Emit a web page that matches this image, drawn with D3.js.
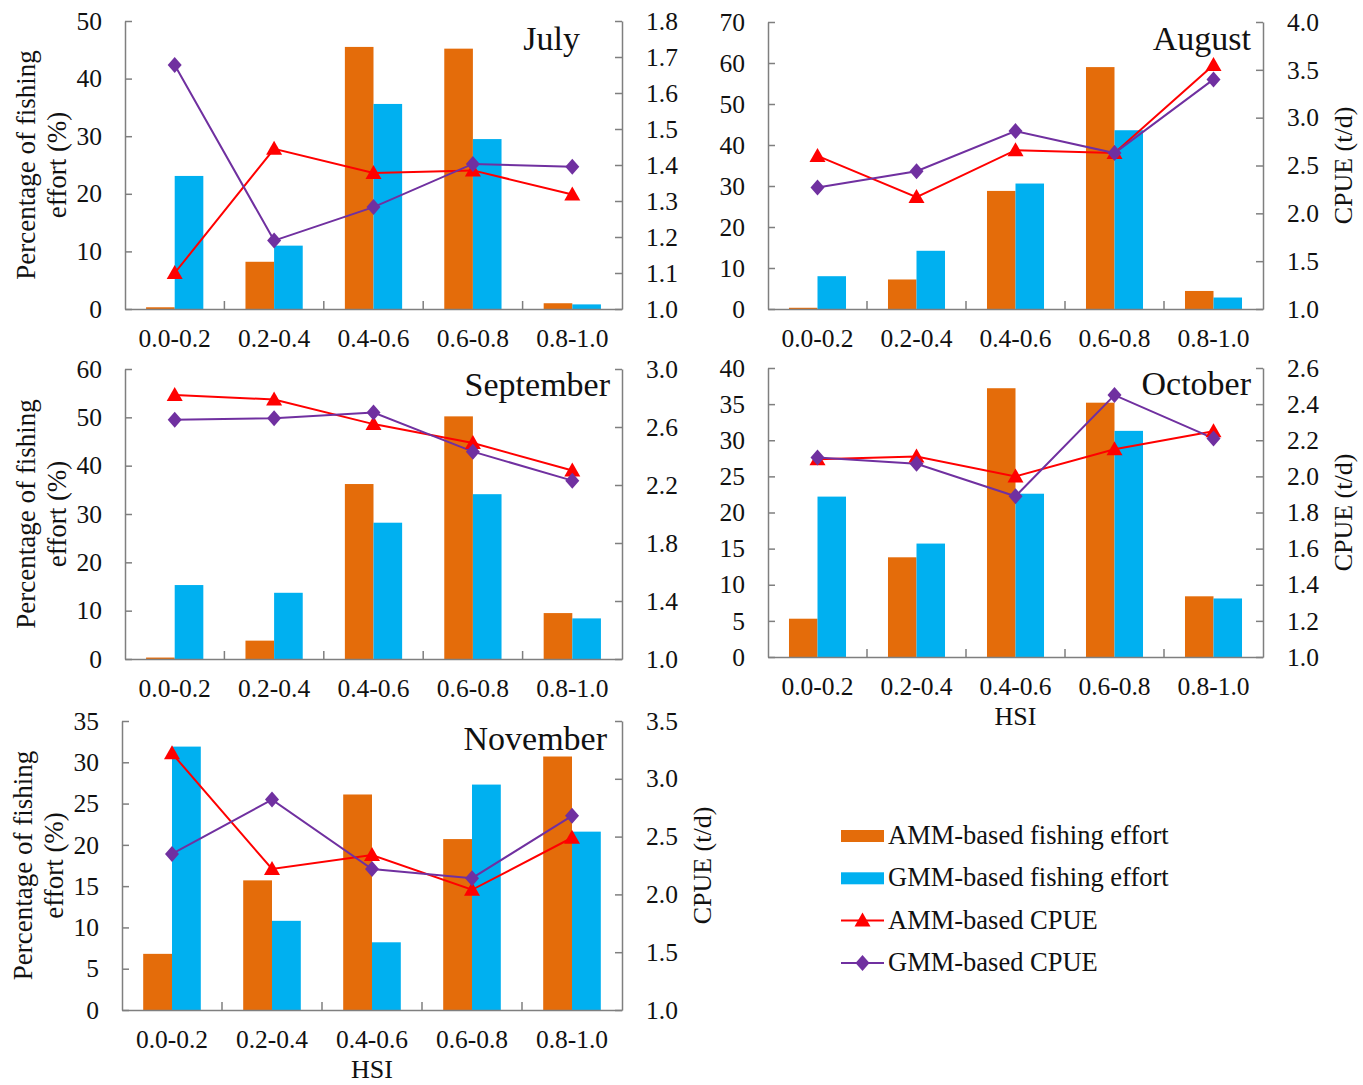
<!DOCTYPE html>
<html>
<head>
<meta charset="utf-8">
<script src="https://cdn.jsdelivr.net/npm/d3@7"></script>
<style>
  html, body { margin: 0; padding: 0; background: #fff; }
  svg { display: block; }
  text { font-family: "Liberation Serif", "Times New Roman", serif; fill: #111; }
</style>
</head>
<body>
<svg id="chart" width="1363" height="1085"></svg>
<script>
// ---------------- DATA ----------------
const categories = ["0.0-0.2", "0.2-0.4", "0.4-0.6", "0.6-0.8", "0.8-1.0"];
const seriesNames = ["AMM-based fishing effort", "GMM-based fishing effort", "AMM-based CPUE", "GMM-based CPUE"];

// July
const julyAmmEffort = [0.3, 8.2, 45.5, 45.2, 1.0];
const julyGmmEffort = [23.1, 11.0, 35.6, 29.5, 0.8];
const julyAmmCpue   = [1.10, 1.445, 1.378, 1.385, 1.318];
const julyGmmCpue   = [1.678, 1.19, 1.283, 1.403, 1.395];
const julyLeftTicks  = [0, 10, 20, 30, 40, 50];
const julyRightTicks = [1.0, 1.1, 1.2, 1.3, 1.4, 1.5, 1.6, 1.7, 1.8];

// August
const augustAmmEffort = [0.3, 7.2, 28.8, 59.0, 4.4];
const augustGmmEffort = [8.0, 14.2, 30.6, 43.6, 2.8];
const augustAmmCpue   = [2.60, 2.17, 2.66, 2.63, 3.55];
const augustGmmCpue   = [2.27, 2.44, 2.86, 2.63, 3.40];
const augustLeftTicks  = [0, 10, 20, 30, 40, 50, 60, 70];
const augustRightTicks = [1.0, 1.5, 2.0, 2.5, 3.0, 3.5, 4.0];

// September
const septemberAmmEffort = [0.3, 3.8, 36.2, 50.2, 9.5];
const septemberGmmEffort = [15.3, 13.7, 28.2, 34.1, 8.4];
const septemberAmmCpue   = [2.82, 2.79, 2.62, 2.49, 2.30];
const septemberGmmCpue   = [2.65, 2.66, 2.70, 2.43, 2.23];
const septemberLeftTicks  = [0, 10, 20, 30, 40, 50, 60];
const septemberRightTicks = [1.0, 1.4, 1.8, 2.2, 2.6, 3.0];

// October
const octoberAmmEffort = [5.3, 13.8, 37.2, 35.2, 8.4];
const octoberGmmEffort = [22.2, 15.7, 22.6, 31.3, 8.1];
const octoberAmmCpue   = [2.095, 2.11, 2.00, 2.15, 2.25];
const octoberGmmCpue   = [2.105, 2.07, 1.89, 2.45, 2.21];
const octoberLeftTicks  = [0, 5, 10, 15, 20, 25, 30, 35, 40];
const octoberRightTicks = [1.0, 1.2, 1.4, 1.6, 1.8, 2.0, 2.2, 2.4, 2.6];

// November
const novemberAmmEffort = [6.8, 15.7, 26.1, 20.7, 30.7];
const novemberGmmEffort = [31.9, 10.8, 8.2, 27.3, 21.6];
const novemberAmmCpue   = [3.22, 2.22, 2.34, 2.04, 2.49];
const novemberGmmCpue   = [2.35, 2.82, 2.22, 2.14, 2.68];
const novemberLeftTicks  = [0, 5, 10, 15, 20, 25, 30, 35];
const novemberRightTicks = [1.0, 1.5, 2.0, 2.5, 3.0, 3.5];

// ---------------- LAYOUT ----------------
const panels = [
  { name: "July", ammE: julyAmmEffort, gmmE: julyGmmEffort, ammC: julyAmmCpue, gmmC: julyGmmCpue,
    lt: julyLeftTicks, rt: julyRightTicks,
    left: 125, right: 622, top: 21, bottom: 309, titleX: 580, titleY: 50,
    leftTitle: true, rightTitle: false, hsi: false },
  { name: "August", ammE: augustAmmEffort, gmmE: augustGmmEffort, ammC: augustAmmCpue, gmmC: augustGmmCpue,
    lt: augustLeftTicks, rt: augustRightTicks,
    left: 768, right: 1263, top: 22, bottom: 309, titleX: 1251, titleY: 50,
    leftTitle: false, rightTitle: true, hsi: false },
  { name: "September", ammE: septemberAmmEffort, gmmE: septemberGmmEffort, ammC: septemberAmmCpue, gmmC: septemberGmmCpue,
    lt: septemberLeftTicks, rt: septemberRightTicks,
    left: 125, right: 622, top: 369, bottom: 659, titleX: 610, titleY: 396,
    leftTitle: true, rightTitle: false, hsi: false },
  { name: "October", ammE: octoberAmmEffort, gmmE: octoberGmmEffort, ammC: octoberAmmCpue, gmmC: octoberGmmCpue,
    lt: octoberLeftTicks, rt: octoberRightTicks,
    left: 768, right: 1263, top: 368, bottom: 657, titleX: 1251, titleY: 395,
    leftTitle: false, rightTitle: true, hsi: true },
  { name: "November", ammE: novemberAmmEffort, gmmE: novemberGmmEffort, ammC: novemberAmmCpue, gmmC: novemberGmmCpue,
    lt: novemberLeftTicks, rt: novemberRightTicks,
    left: 122, right: 622, top: 721, bottom: 1010, titleX: 607, titleY: 750,
    leftTitle: true, rightTitle: true, hsi: true }
];

const COLORS = { amm: "#E46C0A", gmm: "#00B0F0", ammLine: "#FF0000", gmmLine: "#7030A0", axis: "#7f7f7f" };
const TICK_FONT = 25.5;

const svg = d3.select("#chart");

const triangle = d3.symbol().type({
  draw(ctx) {
    ctx.moveTo(0, -8); ctx.lineTo(8, 6); ctx.lineTo(-8, 6); ctx.closePath();
  }
});
const diamond = d3.symbol().type({
  draw(ctx) {
    ctx.moveTo(0, -8); ctx.lineTo(7, 0); ctx.lineTo(0, 8); ctx.lineTo(-7, 0); ctx.closePath();
  }
});

panels.forEach(p => {
  const g = svg.append("g");
  const x = d3.scaleBand().domain(categories).range([p.left, p.right]).padding(0);
  const y = d3.scaleLinear().domain([p.lt[0], p.lt[p.lt.length - 1]]).range([p.bottom, p.top]);
  const y2 = d3.scaleLinear().domain([p.rt[0], p.rt[p.rt.length - 1]]).range([p.bottom, p.top]);
  const bw = x.bandwidth() * 0.288;
  const cx = c => x(c) + x.bandwidth() / 2;

  // bars
  g.selectAll(".ba").data(categories).join("rect")
    .attr("x", c => cx(c) - bw).attr("width", bw)
    .attr("y", (c, i) => y(p.ammE[i])).attr("height", (c, i) => p.bottom - y(p.ammE[i]))
    .attr("fill", COLORS.amm);
  g.selectAll(".bg").data(categories).join("rect")
    .attr("x", c => cx(c)).attr("width", bw)
    .attr("y", (c, i) => y(p.gmmE[i])).attr("height", (c, i) => p.bottom - y(p.gmmE[i]))
    .attr("fill", COLORS.gmm);

  // axes
  const leftAxis = d3.axisLeft(y).tickValues(p.lt).tickSizeInner(-7).tickSizeOuter(0).tickPadding(23)
    .tickFormat(d3.format("d"));
  const la = g.append("g").attr("transform", `translate(${p.left},0)`).call(leftAxis);
  const rightAxis = d3.axisRight(y2).tickValues(p.rt).tickSizeInner(-7).tickSizeOuter(0).tickPadding(24)
    .tickFormat(d3.format(".1f"));
  const ra = g.append("g").attr("transform", `translate(${p.right},0)`).call(rightAxis);
  const bottomAxis = d3.axisBottom(x).tickSize(0).tickPadding(0);
  const ba = g.append("g").attr("transform", `translate(0,${p.bottom})`).call(bottomAxis);
  ba.selectAll("text").attr("dy", null).attr("y", 38);
  // category boundary ticks (inside, pointing up)
  g.selectAll(".bt").data(categories.slice(1)).join("line")
    .attr("x1", c => x(c)).attr("x2", c => x(c))
    .attr("y1", p.bottom).attr("y2", p.bottom - 8)
    .attr("stroke", COLORS.axis).attr("stroke-width", 1.5);

  [la, ra, ba].forEach(a => {
    a.selectAll("path.domain").attr("stroke", COLORS.axis).attr("stroke-width", 1.5);
    a.selectAll(".tick line").attr("stroke", COLORS.axis).attr("stroke-width", 1.5);
    a.selectAll("text").attr("font-size", TICK_FONT).attr("fill", "#111")
      .attr("font-family", "Liberation Serif, Times New Roman, serif");
  });

  // lines
  const line = d3.line().x((d, i) => cx(categories[i])).y(d => y2(d));
  g.append("path").datum(p.ammC).attr("d", line).attr("fill", "none")
    .attr("stroke", COLORS.ammLine).attr("stroke-width", 2);
  g.append("path").datum(p.gmmC).attr("d", line).attr("fill", "none")
    .attr("stroke", COLORS.gmmLine).attr("stroke-width", 2);
  g.selectAll(".mt").data(p.ammC).join("path")
    .attr("d", triangle())
    .attr("transform", (d, i) => `translate(${cx(categories[i])},${y2(d)})`)
    .attr("fill", COLORS.ammLine);
  g.selectAll(".md").data(p.gmmC).join("path")
    .attr("d", diamond())
    .attr("transform", (d, i) => `translate(${cx(categories[i])},${y2(d)})`)
    .attr("fill", COLORS.gmmLine);

  // title
  g.append("text").attr("x", p.titleX).attr("y", p.titleY).attr("text-anchor", "end")
    .attr("font-size", 34).text(p.name);

  const midY = (p.top + p.bottom) / 2;
  if (p.leftTitle) {
    g.append("text").attr("transform", `translate(${p.left - 99},${midY}) rotate(-90)`)
      .attr("text-anchor", "middle").attr("dominant-baseline", "central")
      .attr("font-size", 27).text("Percentage of fishing");
    g.append("text").attr("transform", `translate(${p.left - 68},${midY}) rotate(-90)`)
      .attr("text-anchor", "middle").attr("dominant-baseline", "central")
      .attr("font-size", 27).text("effort (%)");
  }
  if (p.rightTitle) {
    g.append("text").attr("transform", `translate(${p.right + 80},${midY}) rotate(-90)`)
      .attr("text-anchor", "middle").attr("dominant-baseline", "central")
      .attr("font-size", 26).text("CPUE (t/d)");
  }
  if (p.hsi) {
    g.append("text").attr("x", (p.left + p.right) / 2).attr("y", p.bottom + 68)
      .attr("text-anchor", "middle").attr("font-size", 26).text("HSI");
  }
});

// ---------------- LEGEND ----------------
const legend = svg.append("g").attr("transform", "translate(841,836)");
const rowH = 42.3;
seriesNames.forEach((name, i) => {
  const row = legend.append("g").attr("transform", `translate(0,${i * rowH})`);
  if (i === 0 || i === 1) {
    row.append("rect").attr("x", 0).attr("y", -6).attr("width", 43).attr("height", 12)
      .attr("fill", i === 0 ? COLORS.amm : COLORS.gmm);
  } else {
    const col = i === 2 ? COLORS.ammLine : COLORS.gmmLine;
    row.append("line").attr("x1", 0).attr("x2", 43).attr("y1", 0).attr("y2", 0)
      .attr("stroke", col).attr("stroke-width", 2);
    row.append("path").attr("d", i === 2 ? triangle() : diamond())
      .attr("transform", "translate(21.5,0)").attr("fill", col);
  }
  row.append("text").attr("x", 47).attr("y", 8).attr("font-size", 26.5).text(name);
});
</script>
</body>
</html>
